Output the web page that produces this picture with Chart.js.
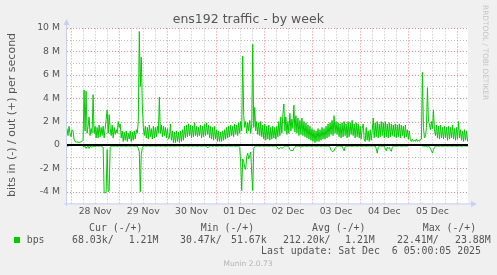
<!DOCTYPE html>
<html><head><meta charset="utf-8">
<script src="https://cdn.jsdelivr.net/npm/chart.js@4.4.1/dist/chart.umd.min.js"></script>
<style>html,body{margin:0;padding:0;background:#F0F0F0;overflow:hidden}canvas{display:block}</style>
</head><body>
<canvas id="c" width="497" height="275" style="width:497px;height:275px"></canvas>
<script>
// ---- data ----
const chartTitle = 'ens192 traffic - by week';
const yAxisTitle = 'bits in (-) / out (+) per second';
const dayLabels = ['28 Nov','29 Nov','30 Nov','01 Dec','02 Dec','03 Dec','04 Dec','05 Dec'];
const dayLabelHours = [12, 36, 60, 84, 108, 132, 156, 180];   // noon of each day, hours from 28 Nov 00:00
const yLabelValuesM = [-4, -2, 0, 2, 4, 6, 8, 10];
const sampleStartHours = -2;      // hours relative to 28 Nov 00:00
const sampleStepHours = 0.5;      // munin week resolution (30 min)
const xMinHours = -2;
const xMaxHours = 197.7;
const yMinM = -5, yMaxM = 10;
// out (+) in Mbit/s
const outMbps = [
1.4,0.8,1.6,1.0,0.7,1.3,1.2,0.5,0.3,0.25,
0.25,0.25,0.2,0.25,0.25,0.3,0.4,4.7,1.2,4.6,
1.0,1.6,2.4,0.8,1.4,1.0,4.3,1.0,1.6,0.6,
1.5,0.6,1.7,0.7,1.5,0.8,1.6,0.6,1.4,2.2,
3.0,1.0,2.6,1.4,0.8,1.7,0.6,1.5,0.9,1.3,
1.0,2.0,1.5,1.8,0.6,1.2,0.3,1.1,0.4,1.2,
0.3,1.0,0.5,1.2,0.3,1.1,0.4,1.2,0.5,1.3,
1.0,2.0,9.7,5.0,7.5,3.5,1.5,0.8,1.6,0.6,
1.5,0.5,1.7,0.7,1.4,0.5,1.6,0.6,1.5,0.7,
1.6,1.0,4.1,1.0,1.7,0.7,1.6,0.8,1.5,0.6,
1.4,0.5,0.6,1.8,0.4,1.2,0.2,1.1,0.2,1.2,
0.3,1.1,0.2,1.2,0.3,1.3,0.4,1.6,0.6,1.7,
0.7,1.8,0.8,1.7,0.6,1.6,0.7,1.9,0.8,1.6,
0.7,1.5,0.8,1.7,0.6,1.6,0.7,1.8,0.8,1.9,
0.9,1.7,0.6,1.6,0.5,1.5,0.4,1.6,0.5,1.3,
0.3,1.2,0.3,1.1,0.3,1.2,0.4,1.3,0.5,1.5,
0.6,1.6,0.7,1.7,0.8,1.6,0.7,1.8,0.9,1.7,
0.8,1.9,1.0,2.0,1.2,7.6,2.5,1.5,2.0,1.0,
1.9,1.2,2.1,1.0,1.8,8.6,1.5,3.2,1.2,2.0,
0.9,1.9,0.8,2.0,0.7,1.7,0.5,1.8,0.4,1.6,
0.5,1.7,0.4,1.5,0.5,1.6,0.6,1.5,0.5,1.6,
0.7,2.0,0.8,2.4,1.0,2.6,3.5,1.2,2.4,0.9,
2.0,1.0,2.7,1.2,2.2,1.4,3.4,1.1,2.5,1.0,
2.3,0.8,2.1,0.9,2.3,0.8,2.0,0.7,1.9,0.6,
1.7,0.5,1.6,0.4,1.4,0.3,1.3,0.2,1.2,0.3,
1.4,0.3,1.3,0.4,1.5,0.5,1.4,0.5,1.6,0.6,
1.8,0.7,1.9,0.9,2.1,0.8,2.5,1.0,2.0,0.9,
1.9,0.7,1.8,0.6,1.9,0.7,2.0,0.8,1.8,0.6,
2.0,0.7,1.9,0.9,2.1,0.8,1.8,0.6,1.9,0.7,
1.8,0.6,1.6,0.5,1.4,1.8,0.5,0.3,1.5,0.4,
1.2,0.3,1.3,0.4,1.2,2.3,0.6,1.9,0.7,2.0,
0.6,1.8,0.7,2.0,0.8,1.9,0.6,2.0,0.7,1.8,
0.6,1.9,0.7,1.8,0.8,1.7,0.7,1.8,0.6,1.7,
0.7,1.8,0.6,1.7,0.8,1.6,0.6,1.7,0.7,1.3,
0.5,1.2,0.4,0.3,0.5,0.3,0.4,0.3,0.5,0.3,
0.4,0.3,0.5,0.5,6.2,1.5,0.6,0.7,1.5,4.9,
2.0,1.8,1.3,2.0,1.4,3.0,1.3,0.8,1.7,0.6,
1.6,0.5,1.7,0.6,1.5,0.5,1.6,0.6,1.5,0.4,
1.6,0.5,1.5,0.6,1.7,0.5,1.4,0.4,1.5,0.5,
2.0,0.6,1.3,0.4,1.2,0.3,1.3,0.4,1.2,0.3
];
// in (-) in Mbit/s, drawn negative
const inMbps = [
-0.1,-0.1,-0.08,-0.05,-0.05,-0.06,-0.05,-0.05,-0.04,-0.05,
-0.05,-0.04,-0.05,-0.05,-0.06,-0.05,-0.08,-0.2,-0.1,-0.3,
-0.15,-0.1,-0.3,-0.1,-0.15,-0.2,-0.1,-0.12,-0.15,-0.1,
-0.08,-0.12,-0.1,-0.08,-0.1,-0.15,-0.2,-4.1,-4.1,-4.0,
-0.4,-4.0,-3.9,-0.2,-0.1,-0.08,-0.12,-0.1,-0.08,-0.1,
-0.12,-0.1,-0.08,-0.1,-0.12,-0.1,-0.08,-0.1,-0.1,-0.12,
-0.1,-0.08,-0.1,-0.12,-0.1,-0.08,-0.1,-0.12,-0.1,-0.1,
-0.1,-0.3,-0.6,-4.0,-0.8,-0.3,-0.1,-0.08,-0.1,-0.12,
-0.1,-0.08,-0.1,-0.12,-0.1,-0.1,-0.08,-0.1,-0.12,-0.1,
-0.1,-0.08,-0.1,-0.12,-0.1,-0.08,-0.1,-0.1,-0.12,-0.1,
-0.1,-0.08,-0.1,-0.12,-0.1,-0.08,-0.1,-0.12,-0.1,-0.1,
-0.08,-0.1,-0.12,-0.1,-0.08,-0.1,-0.12,-0.1,-0.1,-0.08,
-0.1,-0.12,-0.1,-0.08,-0.1,-0.12,-0.1,-0.1,-0.08,-0.1,
-0.12,-0.1,-0.08,-0.1,-0.12,-0.1,-0.1,-0.08,-0.1,-0.12,
-0.25,-0.2,-0.1,-0.08,-0.1,-0.12,-0.1,-0.08,-0.1,-0.1,
-0.12,-0.1,-0.08,-0.1,-0.12,-0.1,-0.1,-0.08,-0.1,-0.12,
-0.1,-0.08,-0.1,-0.12,-0.1,-0.1,-0.08,-0.1,-0.12,-0.1,
-0.1,-0.1,-0.2,-1.5,-3.9,-1.2,-1.4,-1.9,-2.1,-1.0,
-0.7,-1.2,-0.9,-0.6,-2.5,-3.9,-0.3,-0.15,-0.1,-0.1,
-0.08,-0.1,-0.12,-0.1,-0.08,-0.1,-0.12,-0.1,-0.1,-0.08,
-0.1,-0.12,-0.1,-0.08,-0.1,-0.12,-0.1,-0.1,-0.08,-0.15,
-0.3,-0.35,-0.3,-0.2,-0.3,-0.25,-0.15,-0.1,-0.1,-0.1,
-0.1,-0.2,-0.4,-0.5,-0.45,-0.5,-0.3,-0.2,-0.1,-0.1,
-0.1,-0.1,-0.15,-0.2,-0.15,-0.1,-0.1,-0.08,-0.1,-0.12,
-0.1,-0.08,-0.1,-0.12,-0.1,-0.1,-0.08,-0.1,-0.12,-0.1,
-0.1,-0.08,-0.1,-0.12,-0.1,-0.08,-0.1,-0.1,-0.12,-0.1,
-0.1,-0.1,-0.2,-0.45,-0.55,-0.55,-0.5,-0.3,-0.2,-0.1,
-0.1,-0.08,-0.1,-0.12,-0.1,-0.3,-0.5,-0.2,-0.1,-0.1,
-0.12,-0.1,-0.08,-0.1,-0.12,-0.1,-0.1,-0.08,-0.1,-0.12,
-0.1,-0.08,-0.1,-0.12,-0.1,-0.1,-0.08,-0.1,-0.12,-0.1,
-0.1,-0.08,-0.1,-0.12,-0.1,-0.08,-0.1,-0.1,-0.3,-0.7,
-0.2,-0.1,-0.08,-0.1,-0.12,-0.1,-0.1,-0.3,-0.5,-0.2,
-0.3,-0.2,-0.4,-0.55,-0.2,-0.1,-0.08,-0.1,-0.12,-0.1,
-0.1,-0.08,-0.1,-0.12,-0.1,-0.1,-0.08,-0.1,-0.12,-0.1,
-0.03,-0.03,-0.04,-0.03,-0.03,-0.02,-0.03,-0.04,-0.03,-0.03,
-0.03,-0.03,-0.03,-0.05,-0.1,-0.1,-0.15,-0.1,-0.1,-0.2,
-0.1,-0.15,-0.3,-0.5,-0.7,-0.4,-0.2,-0.1,-0.1,-0.1,
-0.12,-0.1,-0.08,-0.1,-0.12,-0.1,-0.1,-0.08,-0.1,-0.12,
-0.1,-0.08,-0.1,-0.12,-0.1,-0.1,-0.08,-0.1,-0.12,-0.1,
-0.1,-0.08,-0.1,-0.12,-0.1,-0.08,-0.1,-0.1,-0.12,-0.1
];
const seriesName = 'bps';
const legendHeaders = ['Cur (-/+)','Min (-/+)','Avg (-/+)','Max (-/+)'];
const legendCur = ['68.03k/','1.21M'];
const legendMin = ['30.47k/','51.67k'];
const legendAvg = ['212.20k/','1.21M'];
const legendMax = ['22.41M/','23.88M'];
const lastUpdate = 'Last update: Sat Dec  6 05:00:05 2025';
const footer = 'Munin 2.0.73';
const watermark = 'RRDTOOL / TOBI OETIKER';

// ---- build ----
const times = outMbps.map((_, i) => sampleStartHours + i * sampleStepHours);
const outPts = outMbps.map((v, i) => ({x: times[i], y: v}));
const inPts = inMbps.map((v, i) => ({x: times[i], y: v}));

const GREEN = '#00CC00';
const TXT = '#555555';
const MGRID = 'rgba(232,110,110,0.8)';
const GRID = 'rgba(175,175,175,0.8)';
const AXIS = '#C8CEF4';

function dashedLine(ctx, x1, y1, x2, y2, color) {
  ctx.strokeStyle = color;
  ctx.beginPath(); ctx.moveTo(x1, y1); ctx.lineTo(x2, y2); ctx.stroke();
}

const deco = {
  id: 'deco',
  beforeDraw(chart) {
    const {ctx, chartArea: a} = chart;
    ctx.save();
    ctx.fillStyle = '#F0F0F0';
    ctx.fillRect(0, 0, chart.width, chart.height);
    ctx.fillStyle = '#FFFFFF';
    ctx.fillRect(a.left, a.top, a.right - a.left, a.bottom - a.top);
    ctx.restore();
  },
  beforeDatasetsDraw(chart) {
    const {ctx, chartArea: a, scales: {x, y}} = chart;
    ctx.save();
    ctx.lineWidth = 1;
    ctx.setLineDash([1, 2]);
    // minor first, then major on top
    for (let pass = 0; pass < 2; pass++) {
      for (let h = 0; h <= 192; h += 6) {
        const major = h % 24 === 0;
        if ((pass === 1) !== major) continue;
        const px = Math.round(x.getPixelForValue(h)) + 0.5;
        dashedLine(ctx, px, a.bottom, px, a.top, major ? MGRID : GRID);
      }
      for (let v = yMinM + 1; v <= yMaxM; v += 1) {
        const major = v % 2 === 0;
        if ((pass === 1) !== major) continue;
        const py = Math.round(y.getPixelForValue(v)) + 0.5;
        dashedLine(ctx, a.left, py, a.right, py, major ? MGRID : GRID);
      }
    }
    ctx.restore();
  },
  afterDatasetsDraw(chart) {
    const {ctx, chartArea: a, scales: {y}} = chart;
    const y0 = y.getPixelForValue(0);
    ctx.save();
    ctx.fillStyle = '#000';
    ctx.fillRect(a.left, Math.round(y0) - 1, a.right - a.left, 2);
    ctx.restore();
  },
  afterDraw(chart) {
    const {ctx, chartArea: a} = chart;
    ctx.save();
    // axes with arrows
    ctx.strokeStyle = AXIS; ctx.fillStyle = AXIS; ctx.lineWidth = 1;
    ctx.beginPath();
    ctx.moveTo(a.left - 0.5, a.bottom + 3); ctx.lineTo(a.left - 0.5, a.top - 4);
    ctx.moveTo(a.left - 3, a.bottom + 0.5); ctx.lineTo(a.right + 4, a.bottom + 0.5);
    ctx.stroke();
    ctx.beginPath();
    ctx.moveTo(a.left - 3.5, a.top - 3); ctx.lineTo(a.left + 2.5, a.top - 3); ctx.lineTo(a.left - 0.5, a.top - 9); ctx.closePath(); ctx.fill();
    ctx.beginPath();
    ctx.moveTo(a.right + 3, a.bottom - 2.5); ctx.lineTo(a.right + 3, a.bottom + 3.5); ctx.lineTo(a.right + 9, a.bottom + 0.5); ctx.closePath(); ctx.fill();
    // title
    ctx.fillStyle = TXT;
    ctx.font = '12.5px "DejaVu Sans"';
    ctx.textAlign = 'center'; ctx.textBaseline = 'alphabetic';
    ctx.fillText(chartTitle, 248.3, 23);
    // y title
    ctx.save();
    ctx.translate(12.5, 115);
    ctx.rotate(-Math.PI / 2);
    ctx.font = '11px "DejaVu Sans"';
    ctx.textBaseline = 'middle';
    ctx.fillText(yAxisTitle, 0, 0);
    ctx.restore();
    // watermark
    ctx.save();
    ctx.translate(485, 5);
    ctx.rotate(Math.PI / 2);
    ctx.font = '7.4px "DejaVu Sans"';
    ctx.fillStyle = '#C4C4C4';
    ctx.textAlign = 'left'; ctx.textBaseline = 'middle';
    ctx.fillText(watermark, 0, 0);
    ctx.restore();
    // legend
    ctx.font = '9.9px "DejaVu Sans Mono"';
    ctx.fillStyle = TXT;
    ctx.textAlign = 'left'; ctx.textBaseline = 'middle';
    const hx = [89, 200.7, 312, 422.7];
    legendHeaders.forEach((h, i) => ctx.fillText(h, hx[i], 228));
    ctx.fillText(seriesName, 26.7, 240);
    const vals = [legendCur, legendMin, legendAvg, legendMax].flat();
    const vx = [72, 128.7, 180, 231, 283, 345, 397, 455];
    vals.forEach((v, i) => ctx.fillText(v, vx[i], 240));
    ctx.fillText(lastUpdate, 261, 251.5);
    ctx.fillStyle = GREEN;
    ctx.fillRect(14, 237, 6, 6);
    ctx.font = '7.5px "DejaVu Sans"';
    ctx.fillStyle = '#B4B4B4';
    ctx.textAlign = 'center';
    ctx.fillText(footer, 248, 264.5);
    ctx.restore();
  }
};

new Chart(document.getElementById('c'), {
  type: 'line',
  data: {
    datasets: [
      {label: 'out', data: outPts, borderColor: GREEN, borderWidth: 1, pointRadius: 0, tension: 0, fill: false},
      {label: 'in', data: inPts, borderColor: GREEN, borderWidth: 1, pointRadius: 0, tension: 0, fill: false}
    ]
  },
  options: {
    responsive: false,
    devicePixelRatio: 1,
    animation: false,
    events: [],
    layout: {padding: {left: 0, top: 28, right: 29, bottom: 0}},
    plugins: {legend: {display: false}, tooltip: {enabled: false}, title: {display: false}},
    scales: {
      x: {
        type: 'linear', min: xMinHours, max: xMaxHours,
        afterBuildTicks(s) { s.ticks = dayLabelHours.map(v => ({value: v})); },
        afterFit(s) { s.height = 71.6; },
        grid: {display: false, drawTicks: false},
        border: {display: false},
        ticks: {
          autoSkip: false, maxRotation: 0, padding: 3,
          color: TXT, font: {family: 'DejaVu Sans', size: 9.3},
          callback: (v, i) => dayLabels[i]
        }
      },
      y: {
        min: yMinM, max: yMaxM,
        afterBuildTicks(s) { s.ticks = yLabelValuesM.map(v => ({value: v})); },
        afterFit(s) { s.width = 67; },
        grid: {display: false, drawTicks: false},
        border: {display: false},
        ticks: {
          autoSkip: false, padding: 7,
          color: TXT, font: {family: 'DejaVu Sans', size: 9.3},
          callback: v => v === 0 ? '0' : v + ' M'
        }
      }
    }
  },
  plugins: [deco]
});
</script>
</body></html>
